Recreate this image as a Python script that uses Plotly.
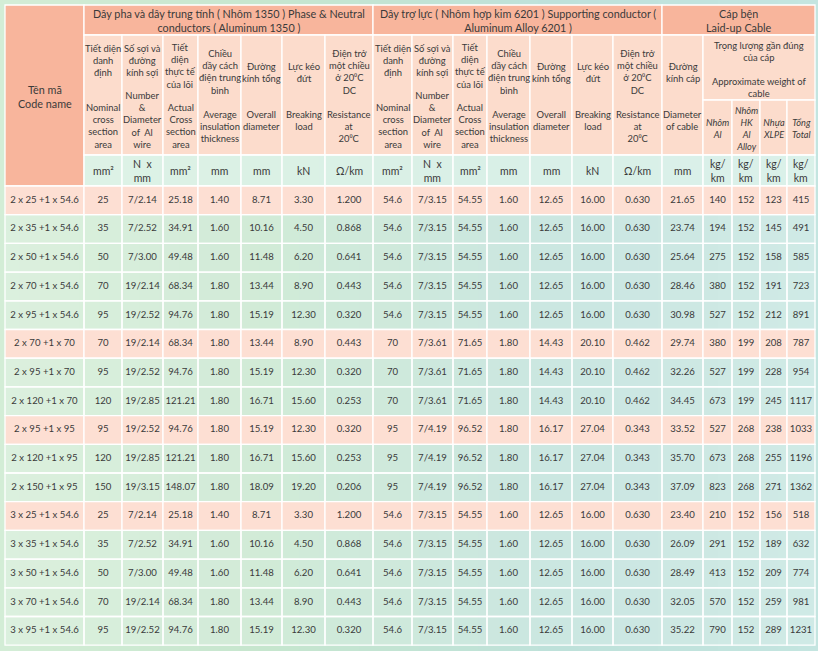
import plotly.graph_objects as go

# ---------------- data ----------------
code_names = ["2 x 25 +1 x 54.6", "2 x 35 +1 x 54.6", "2 x 50 +1 x 54.6", "2 x 70 +1 x 54.6",
              "2 x 95 +1 x 54.6", "2 x 70 +1 x 70", "2 x 95 +1 x 70", "2 x 120 +1 x 70",
              "2 x 95 +1 x 95", "2 x 120 +1 x 95", "2 x 150 +1 x 95", "3 x 25 +1 x 54.6",
              "3 x 35 +1 x 54.6", "3 x 50 +1 x 54.6", "3 x 70 +1 x 54.6", "3 x 95 +1 x 54.6"]
phase_nominal = [25, 35, 50, 70, 95, 70, 95, 120, 95, 120, 150, 25, 35, 50, 70, 95]
phase_strands = ["7/2.14", "7/2.52", "7/3.00", "19/2.14", "19/2.52", "19/2.14", "19/2.52", "19/2.85",
                 "19/2.52", "19/2.85", "19/3.15", "7/2.14", "7/2.52", "7/3.00", "19/2.14", "19/2.52"]
phase_actual = [25.18, 34.91, 49.48, 68.34, 94.76, 68.34, 94.76, 121.21, 94.76, 121.21, 148.07,
                25.18, 34.91, 49.48, 68.34, 94.76]
phase_insul = [1.40, 1.60, 1.60, 1.80, 1.80, 1.80, 1.80, 1.80, 1.80, 1.80, 1.80, 1.40, 1.60, 1.60, 1.80, 1.80]
phase_od = [8.71, 10.16, 11.48, 13.44, 15.19, 13.44, 15.19, 16.71, 15.19, 16.71, 18.09,
            8.71, 10.16, 11.48, 13.44, 15.19]
phase_break = [3.30, 4.50, 6.20, 8.90, 12.30, 8.90, 12.30, 15.60, 12.30, 15.60, 19.20,
               3.30, 4.50, 6.20, 8.90, 12.30]
phase_res = [1.200, 0.868, 0.641, 0.443, 0.320, 0.443, 0.320, 0.253, 0.320, 0.253, 0.206,
             1.200, 0.868, 0.641, 0.443, 0.320]
sup_nominal = [54.6, 54.6, 54.6, 54.6, 54.6, 70, 70, 70, 95, 95, 95, 54.6, 54.6, 54.6, 54.6, 54.6]
sup_strands = ["7/3.15", "7/3.15", "7/3.15", "7/3.15", "7/3.15", "7/3.61", "7/3.61", "7/3.61",
               "7/4.19", "7/4.19", "7/4.19", "7/3.15", "7/3.15", "7/3.15", "7/3.15", "7/3.15"]
sup_actual = [54.55, 54.55, 54.55, 54.55, 54.55, 71.65, 71.65, 71.65, 96.52, 96.52, 96.52,
              54.55, 54.55, 54.55, 54.55, 54.55]
sup_insul = [1.60, 1.60, 1.60, 1.60, 1.60, 1.80, 1.80, 1.80, 1.80, 1.80, 1.80, 1.60, 1.60, 1.60, 1.60, 1.60]
sup_od = [12.65, 12.65, 12.65, 12.65, 12.65, 14.43, 14.43, 14.43, 16.17, 16.17, 16.17,
          12.65, 12.65, 12.65, 12.65, 12.65]
sup_break = [16.00, 16.00, 16.00, 16.00, 16.00, 20.10, 20.10, 20.10, 27.04, 27.04, 27.04,
             16.00, 16.00, 16.00, 16.00, 16.00]
sup_res = [0.630, 0.630, 0.630, 0.630, 0.630, 0.462, 0.462, 0.462, 0.343, 0.343, 0.343,
           0.630, 0.630, 0.630, 0.630, 0.630]
cable_diam = [21.65, 23.74, 25.64, 28.46, 30.98, 29.74, 32.26, 34.45, 33.52, 35.70, 37.09,
              23.40, 26.09, 28.49, 32.05, 35.22]
w_al = [140, 194, 275, 380, 527, 380, 527, 673, 527, 673, 823, 210, 291, 413, 570, 790]
w_alloy = [152, 152, 152, 152, 152, 199, 199, 199, 268, 268, 268, 152, 152, 152, 152, 152]
w_xlpe = [123, 145, 158, 191, 212, 208, 228, 245, 238, 255, 271, 156, 189, 209, 259, 289]
w_total = [415, 491, 585, 723, 891, 787, 954, 1117, 1033, 1196, 1362, 518, 632, 774, 981, 1231]

group_titles = ["Dây pha và dây trung tính ( Nhôm 1350 ) Phase & Neutral<br>conductors ( Aluminum 1350 )",
                "Dây trợ lực ( Nhôm hợp kim 6201 ) Supporting conductor (<br>Aluminum Alloy 6201 )",
                "Cáp bện<br>Laid-up Cable"]
code_header = "Tên mã<br>Code name"
sub_vn = ["Tiết diện<br>danh<br>định", "Số sợi và<br>đường<br>kính sợi", "Tiết<br>diện<br>thực tế<br>của lõi",
          "Chiều<br>dầy cách<br>điện trung<br>bình", "Đường<br>kính tổng", "Lực kéo<br>đứt",
          "Điện trở<br>một chiều<br>ở 20⁰C<br>DC"]
sub_en = ["Nominal<br>cross<br>section<br>area", "Number<br>&<br>Diameter<br>of  Al<br>wire",
          "Actual<br>Cross<br>section<br>area", "Average<br>insulation<br>thickness", "Overall<br>diameter",
          "Breaking<br>load", "Resistance<br>at<br>20⁰C"]
diam_vn = "Đường<br>kính cáp"
diam_en = "Diameter<br>of cable"
weight_vn = "Trọng lượng gần đúng<br>của cáp"
weight_en = "Approximate weight of<br>cable"
weight_cols = ["Nhôm<br>Al", "Nhôm<br>HK<br>Al<br>Alloy", "Nhựa<br>XLPE", "Tổng<br>Total"]
units_cond = ["mm²", "N  x<br>mm", "mm²", "mm", "mm", "kN", "Ω/km"]
units_cable = ["mm", "kg/<br>km", "kg/<br>km", "kg/<br>km", "kg/<br>km"]

# ---------------- layout / style ----------------
W, H = 818, 651
FONT = "Lato"
TXT = "#3a3a3a"
SALMON = "#F8B59C"
SUBPINK = "#FCDCCC"
ROWPINK = "#FDDFD3"
UNITFILL = "rgba(226,244,236,0.75)"
CELLFILL = "rgba(255,255,255,0.20)"
col_edges = [5, 84, 122, 163, 198, 241, 282, 325, 373, 412, 453, 487, 530, 572, 613, 662, 703, 732, 760, 787, 815]
y_top, y_grp, y_wgt, y_sub, y_unit = 5, 35, 100, 155, 186
n = len(code_names)
row_h = 28.7
row_edges = [y_unit + i * row_h for i in range(n + 1)]
ccx = [(col_edges[i] + col_edges[i + 1]) / 2 for i in range(len(col_edges) - 1)]

shapes = []
anns = []


def rect(x0, y0, x1, y1, fill, lw=1.3):
    shapes.append(dict(type="rect", xref="x", yref="y", x0=x0, y0=y0, x1=x1, y1=y1,
                       fillcolor=fill, line=dict(color="white", width=lw), layer="below"))


def txt(x, y, s, size=9.5, italic=False):
    if italic:
        s = "<i>" + s + "</i>"
    anns.append(dict(x=x, y=y, xref="x", yref="y", text=s, showarrow=False,
                     font=dict(family=FONT, size=size, color=TXT),
                     xanchor="center", yanchor="middle", align="center"))


# background gradient strips
stops = [(0, (212, 237, 214)), (260, (198, 230, 206)), (560, (190, 225, 218)), (818, (196, 229, 224))]


def bgcol(x):
    for (xa, ca), (xb, cb) in zip(stops[:-1], stops[1:]):
        if xa <= x <= xb:
            t = (x - xa) / (xb - xa)
            c = [round(ca[k] + (cb[k] - ca[k]) * t) for k in range(3)]
            return "rgb(%d,%d,%d)" % tuple(c)
    return "rgb(196,229,224)"


nstrip = 41
for k in range(nstrip):
    x0 = W * k / nstrip
    x1 = W * (k + 1) / nstrip + 0.5
    shapes.append(dict(type="rect", xref="x", yref="y", x0=x0, y0=0, x1=x1, y1=H,
                       fillcolor=bgcol((x0 + x1) / 2), line=dict(width=0), layer="below"))

# header cells
rect(col_edges[0], y_top, col_edges[1], y_unit, SALMON)
rect(col_edges[1], y_top, col_edges[8], y_grp, SALMON)
rect(col_edges[8], y_top, col_edges[15], y_grp, SALMON)
rect(col_edges[15], y_top, col_edges[20], y_grp, SALMON)
for j in range(1, 16):
    rect(col_edges[j], y_grp, col_edges[j + 1], y_sub, SUBPINK)
rect(col_edges[16], y_grp, col_edges[20], y_wgt, SUBPINK)
for j in range(16, 20):
    rect(col_edges[j], y_wgt, col_edges[j + 1], y_sub, SUBPINK)
for j in range(1, 20):
    rect(col_edges[j], y_sub, col_edges[j + 1], y_unit, UNITFILL)

# header texts
txt(ccx[0], 96, code_header, size=10.8)
txt((col_edges[1] + col_edges[8]) / 2, 20, group_titles[0], size=10.8)
txt((col_edges[8] + col_edges[15]) / 2, 20, group_titles[1], size=10.8)
txt((col_edges[15] + col_edges[20]) / 2, 20, group_titles[2], size=10.8)
vn_y = [60, 60, 66, 72, 72, 72, 72]
en_y = [126, 120, 126, 126, 120, 120, 126]
for base in (1, 8):
    for k in range(7):
        txt(ccx[base + k], vn_y[k], sub_vn[k], size=9.4)
        txt(ccx[base + k], en_y[k], sub_en[k], size=9.4)
        txt(ccx[base + k], 171, units_cond[k], size=10.5)
txt(ccx[15], 72, diam_vn, size=9.4)
txt(ccx[15], 120, diam_en, size=9.4)
txt((col_edges[16] + col_edges[20]) / 2, 51, weight_vn, size=9.4)
txt((col_edges[16] + col_edges[20]) / 2, 87, weight_en, size=9.4)
for k in range(4):
    txt(ccx[16 + k], 128, weight_cols[k], size=9.2, italic=True)
for k in range(5):
    txt(ccx[15 + k], 171, units_cable[k], size=10.5)

# data cells
pink_rows = [i == 0 or sup_nominal[i] != sup_nominal[i - 1] for i in range(n)]
for i in range(n):
    fill = ROWPINK if pink_rows[i] else CELLFILL
    for j in range(20):
        rect(col_edges[j], row_edges[i], col_edges[j + 1], row_edges[i + 1], fill)


def fmt(vals, spec):
    if spec == "s":
        return list(vals)
    if spec == "g":
        return ["%g" % v for v in vals]
    return [format(v, spec) for v in vals]


columns = [(code_names, "s"), (phase_nominal, "g"), (phase_strands, "s"), (phase_actual, ".2f"),
           (phase_insul, ".2f"), (phase_od, ".2f"), (phase_break, ".2f"), (phase_res, ".3f"),
           (sup_nominal, "g"), (sup_strands, "s"), (sup_actual, ".2f"), (sup_insul, ".2f"),
           (sup_od, ".2f"), (sup_break, ".2f"), (sup_res, ".3f"), (cable_diam, ".2f"),
           (w_al, "d"), (w_alloy, "d"), (w_xlpe, "d"), (w_total, "d")]
row_cy = [(row_edges[i] + row_edges[i + 1]) / 2 for i in range(n)]

fig = go.Figure()
for j, (vals, spec) in enumerate(columns):
    fig.add_trace(go.Scatter(x=[ccx[j]] * n, y=row_cy, text=fmt(vals, spec), mode="text",
                             textposition="middle center",
                             textfont=dict(family=FONT, size=9.6, color=TXT),
                             hoverinfo="skip", showlegend=False))

fig.update_layout(
    width=W, height=H, autosize=False,
    margin=dict(l=0, r=0, t=0, b=0, pad=0),
    paper_bgcolor="rgb(200,231,216)", plot_bgcolor="rgb(200,231,216)",
    xaxis=dict(range=[0, W], visible=False, fixedrange=True),
    yaxis=dict(range=[H, 0], visible=False, fixedrange=True),
    shapes=shapes, annotations=anns, showlegend=False,
)
fig.write_html(
    "out.html",
    config={"displayModeBar": False},
    post_script="document.body.style.margin='0';document.body.style.padding='0';"
                "document.body.style.overflow='hidden';",
)
